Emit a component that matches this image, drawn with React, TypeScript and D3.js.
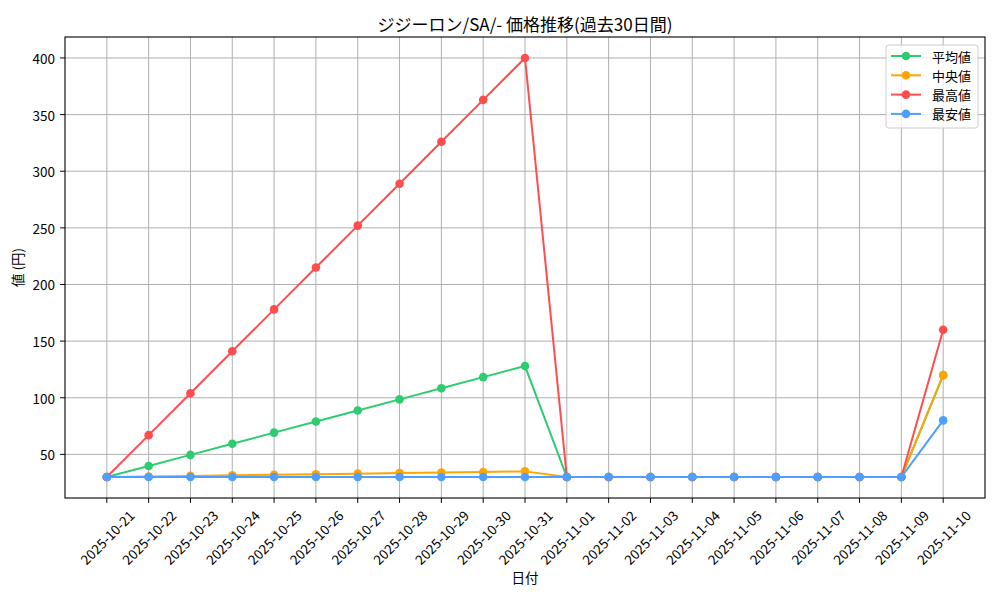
import { line, max, min, scaleLinear } from "d3";

const dates = [
  "2025-10-21", "2025-10-22", "2025-10-23", "2025-10-24", "2025-10-25", "2025-10-26",
  "2025-10-27", "2025-10-28", "2025-10-29", "2025-10-30", "2025-10-31", "2025-11-01",
  "2025-11-02", "2025-11-03", "2025-11-04", "2025-11-05", "2025-11-06", "2025-11-07",
  "2025-11-08", "2025-11-09", "2025-11-10",
];

const avgValues = [30, 39.8, 49.6, 59.4, 69.2, 79, 88.8, 98.6, 108.4, 118.2, 128, 30, 30, 30, 30, 30, 30, 30, 30, 30, 120];
const medianValues = [30, 30.5, 31, 31.5, 32, 32.5, 33, 33.5, 34, 34.5, 35, 30, 30, 30, 30, 30, 30, 30, 30, 30, 120];
const maxValues = [30, 67, 104, 141, 178, 215, 252, 289, 326, 363, 400, 30, 30, 30, 30, 30, 30, 30, 30, 30, 160];
const minValues = [30, 30, 30, 30, 30, 30, 30, 30, 30, 30, 30, 30, 30, 30, 30, 30, 30, 30, 30, 30, 80];

const yTicks = [50, 100, 150, 200, 250, 300, 350, 400];

const series = [
  { name: "平均値", color: "#2ecc71", values: avgValues },
  { name: "中央値", color: "#ffa500", values: medianValues },
  { name: "最高値", color: "#ff4d4d", values: maxValues },
  { name: "最安値", color: "#4d9eff", values: minValues },
];

const FONT = "'Noto Sans CJK JP', 'Noto Sans', sans-serif";

export default function App() {
  const width = 1000;
  const height = 600;
  const margin = { top: 37, right: 15, bottom: 102, left: 65 };

  const x = scaleLinear()
    .domain([-1, dates.length])
    .range([margin.left, width - margin.right]);

  const lo = min(series, (s) => min(s.values) ?? 0) ?? 0;
  const hi = max(series, (s) => max(s.values) ?? 0) ?? 0;
  const pad = (hi - lo) * 0.05;
  const y = scaleLinear()
    .domain([lo - pad, hi + pad])
    .range([height - margin.bottom, margin.top]);

  const path = line<number>()
    .x((_, i) => x(i))
    .y((d) => y(d));

  const plotBottom = height - margin.bottom;
  const plotRight = width - margin.right;

  return (
    <svg
      width={width}
      height={height}
      style={{ position: "absolute", left: 0, top: 0, background: "#fff" }}
      fontFamily={FONT}
    >
      <text x={(margin.left + plotRight) / 2} y={31} fontSize={17} textAnchor="middle" fill="#000">
        ジジーロン/SA/- 価格推移(過去30日間)
      </text>

      {/* grid */}
      {dates.map((d, i) => (
        <line key={`gx-${d}`} x1={x(i)} x2={x(i)} y1={margin.top} y2={plotBottom} stroke="#b0b0b0" strokeWidth={1} />
      ))}
      {yTicks.map((t) => (
        <line key={`gy-${t}`} x1={margin.left} x2={plotRight} y1={y(t)} y2={y(t)} stroke="#b0b0b0" strokeWidth={1} />
      ))}

      {/* series */}
      {series.map((s) => (
        <g key={s.name}>
          <path d={path(s.values) ?? ""} fill="none" stroke={s.color} strokeWidth={2} />
          {s.values.map((v, i) => (
            <circle key={i} cx={x(i)} cy={y(v)} r={4.3} fill={s.color} />
          ))}
        </g>
      ))}

      {/* frame */}
      <rect
        x={margin.left}
        y={margin.top}
        width={plotRight - margin.left}
        height={plotBottom - margin.top}
        fill="none"
        stroke="#000"
        strokeWidth={1.1}
      />

      {/* y axis */}
      {yTicks.map((t) => (
        <g key={`yt-${t}`}>
          <line x1={margin.left - 4.9} x2={margin.left} y1={y(t)} y2={y(t)} stroke="#000" strokeWidth={1} />
          <text x={margin.left - 10} y={y(t)} fontSize={13.5} textAnchor="end" dominantBaseline="central" fill="#000">
            {t}
          </text>
        </g>
      ))}

      {/* x axis */}
      {dates.map((d, i) => (
        <g key={`xt-${d}`}>
          <line x1={x(i)} x2={x(i)} y1={plotBottom} y2={plotBottom + 4.9} stroke="#000" strokeWidth={1} />
          <text
            transform={`translate(${x(i)},${plotBottom + 39}) rotate(-45)`}
            fontSize={13.5}
            textAnchor="middle"
            dominantBaseline="central"
            fill="#000"
          >
            {d}
          </text>
        </g>
      ))}

      <text x={(margin.left + plotRight) / 2} y={583} fontSize={13.5} textAnchor="middle" fill="#000">
        日付
      </text>
      <text
        transform={`translate(17,${(margin.top + plotBottom) / 2}) rotate(-90)`}
        fontSize={13.5}
        textAnchor="middle"
        dominantBaseline="central"
        fill="#000"
      >
        値 (円)
      </text>

      {/* legend */}
      <rect x={886} y={45} width={92} height={83} rx={3} fill="rgba(255,255,255,0.8)" stroke="#cccccc" strokeWidth={1} />
      {series.map((s, i) => {
        const ly = 56 + i * 19.3;
        return (
          <g key={`lg-${s.name}`}>
            <line x1={891} x2={921} y1={ly} y2={ly} stroke={s.color} strokeWidth={2} />
            <circle cx={906} cy={ly} r={4.3} fill={s.color} />
            <text x={932} y={ly} fontSize={13} dominantBaseline="central" fill="#000">
              {s.name}
            </text>
          </g>
        );
      })}
    </svg>
  );
}
